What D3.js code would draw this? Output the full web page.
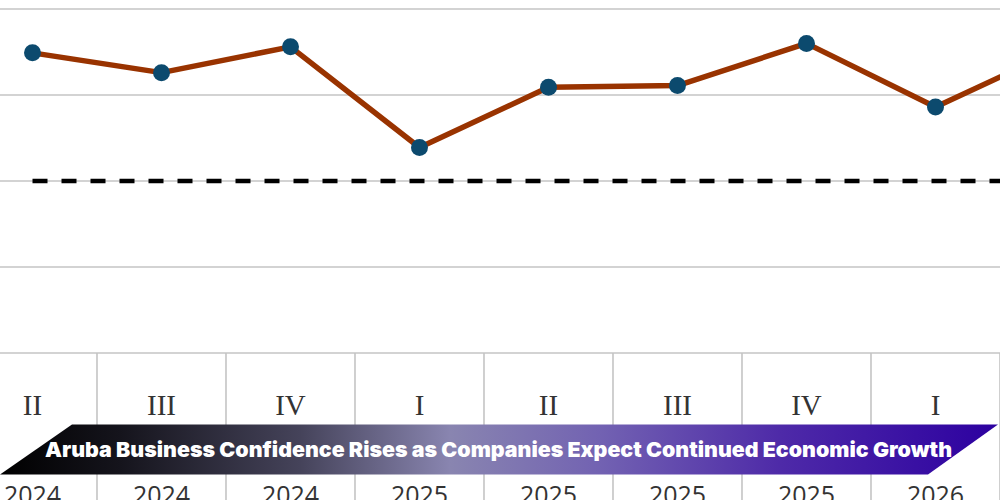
<!DOCTYPE html>
<html>
<head>
<meta charset="utf-8">
<script src="https://cdn.jsdelivr.net/npm/d3@7"></script>
<style>
  html, body { margin: 0; padding: 0; background: #fff; overflow: hidden; }
  svg { display: block; }
</style>
</head>
<body>
<div id="chart"></div>
<script>
// quarters shown along the axis (last one runs off the right edge)
var quarters = ["II", "III", "IV", "I", "II", "III", "IV", "I", "II"];
var years = ["2024", "2024", "2024", "2025", "2025", "2025", "2025", "2026", "2026"];
var confidence = [14.9, 12.6, 15.6, 3.9, 10.9, 11.1, 16.0, 8.6, 15.6];
var baseline = [0, 0, 0, 0, 0, 0, 0, 0, 0];
var yTicks = [-20, -10, 0, 10, 20];
var title = "Aruba Business Confidence Rises as Companies Expect Continued Economic Growth";

var width = 1000, height = 500;
var keys = quarters.map(function (q, i) { return i; });

var svg = d3.select("#chart").append("svg")
    .attr("width", width)
    .attr("height", height);

var x = d3.scaleBand()
    .domain(keys)
    .range([-32, -32 + 129 * keys.length])
    .padding(0);

var y = d3.scaleLinear()
    .domain([-20, 20])
    .range([353, 9]);

var center = function (i) { return x(i) + x.bandwidth() / 2; };
// only label the bands that fall inside the picture
var visibleKeys = keys.filter(function (i) { return center(i) < width; });

//gridlines
svg.append("g").attr("class", "grid")
    .selectAll("line")
    .data(yTicks)
    .enter().append("line")
    .attr("x1", 0)
    .attr("x2", width)
    .attr("y1", function (d) { return y(d); })
    .attr("y2", function (d) { return y(d); })
    .attr("stroke", "#c4c4c4")
    .attr("stroke-width", 1.6);

//category table below the plot
var table = svg.append("g").attr("class", "categories");
table.selectAll("line")
    .data(keys.slice(1))
    .enter().append("line")
    .attr("x1", function (d) { return x(d); })
    .attr("x2", function (d) { return x(d); })
    .attr("y1", y(-20))
    .attr("y2", height)
    .attr("stroke", "#c4c4c4")
    .attr("stroke-width", 1.6);

table.selectAll("text.quarter")
    .data(visibleKeys)
    .enter().append("text")
    .attr("class", "quarter")
    .attr("x", center)
    .attr("y", 415)
    .attr("text-anchor", "middle")
    .attr("font-family", "'Liberation Serif', 'DejaVu Serif', serif")
    .attr("font-size", 29)
    .attr("fill", "#333")
    .text(function (d) { return quarters[d]; });

table.selectAll("text.year")
    .data(visibleKeys)
    .enter().append("text")
    .attr("class", "year")
    .attr("x", center)
    .attr("y", 504)
    .attr("text-anchor", "middle")
    .attr("font-family", "'Open Sans', sans-serif")
    .attr("font-size", 25)
    .attr("fill", "#333")
    .text(function (d) { return years[d]; });

//dashed zero line
var line = d3.line()
    .x(function (d, i) { return center(i); })
    .y(function (d) { return y(d); });

svg.append("path")
    .datum(baseline)
    .attr("d", line)
    .attr("fill", "none")
    .attr("stroke", "#000")
    .attr("stroke-width", 4.5)
    .attr("stroke-dasharray", "15,14");

//confidence series
svg.append("path")
    .datum(confidence)
    .attr("d", line)
    .attr("fill", "none")
    .attr("stroke", "#993300")
    .attr("stroke-width", 5.5)
    .attr("stroke-linejoin", "round");

svg.append("g").selectAll("circle")
    .data(confidence)
    .enter().append("circle")
    .attr("cx", function (d, i) { return center(i); })
    .attr("cy", function (d) { return y(d); })
    .attr("r", 8.5)
    .attr("fill", "#0c4a6e");

//title banner
var defs = svg.append("defs");
var grad = defs.append("linearGradient")
    .attr("id", "bannerGradient")
    .attr("gradientUnits", "userSpaceOnUse")
    .attr("x1", 0).attr("x2", width)
    .attr("y1", 0).attr("y2", 0);
[["0%", "#000000"], ["12%", "#15141c"], ["30%", "#45435a"], ["45%", "#8985b0"],
 ["60%", "#7262b2"], ["78%", "#4e2aa8"], ["100%", "#2c00a0"]].forEach(function (s) {
    grad.append("stop").attr("offset", s[0]).attr("stop-color", s[1]);
});

svg.append("path")
    .attr("d", "M72,424.5 L998,424.5 L928,474.5 L0,474.5 Z")
    .attr("fill", "url(#bannerGradient)");

svg.append("text")
    .attr("x", 45)
    .attr("y", 456.5)
    .attr("font-family", "Inter, 'Open Sans', sans-serif")
    .attr("font-weight", 900)
    .attr("font-size", 20.5)
    .attr("fill", "#fff")
    .attr("textLength", 907)
    .attr("lengthAdjust", "spacingAndGlyphs")
    .text(title);
</script>
</body>
</html>
